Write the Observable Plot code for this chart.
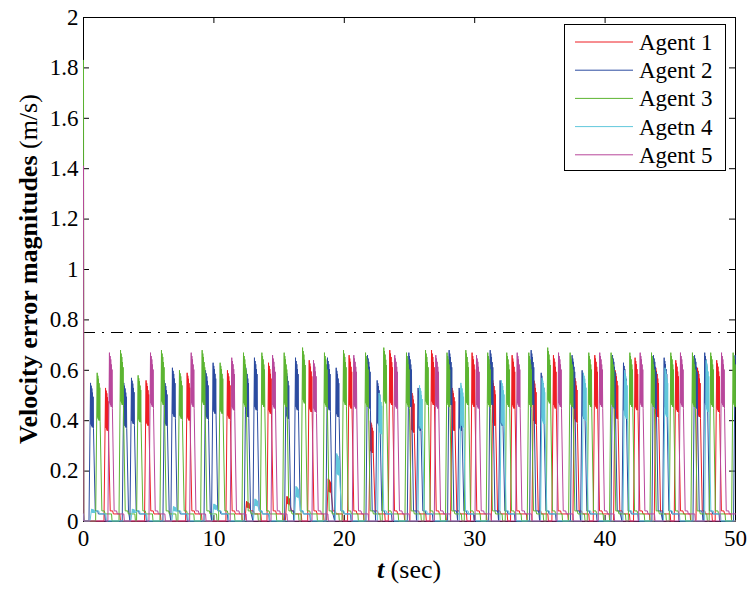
<!DOCTYPE html>
<html>
<head>
<meta charset="utf-8">
<script src="https://cdn.jsdelivr.net/npm/d3@7"></script>
<script src="https://cdn.jsdelivr.net/npm/@observablehq/plot@0.6"></script>
<style>
  html, body { margin: 0; padding: 0; background: #fff; }
  svg { display: block; }
  svg text, svg tspan { font-family: "Times New Roman", "Liberation Serif", Times, "DejaVu Serif", serif; }
</style>
</head>
<body>
<div id="chart"></div>
<script>
// ---- data ----
const agents = ["Agent 1", "Agent 2", "Agent 3", "Agetn 4", "Agent 5"];
const colors = ["#ee1d23", "#2b4ba0", "#5cb531", "#62c8dc", "#b8479b"];
const initialValues = [0.03, 0.03, 1.83, 0.03, 1.41];

const xTicks = [0, 10, 20, 30, 40, 50];
const yTicks = [0, 0.2, 0.4, 0.6, 0.8, 1, 1.2, 1.4, 1.6, 1.8, 2];
const yTickLabels = ["0", "0.2", "0.4", "0.6", "0.8", "1", "1.2", "1.4", "1.6", "1.8", "2"];
const bound = 0.75;

// spike times (s) and peak values (m/s) per agent
const spikeTimes1 = [1.69, 4.8, 7.95, 11.04, 12.5, 14.19, 15.6, 17.31, 18.77, 20.37, 22.0, 23.49, 25.15, 26.69, 28.27, 29.8, 31.39, 32.87, 34.51, 36.04, 37.65, 39.21, 40.77, 42.3, 43.89, 45.42, 47.09, 48.56];
const spikePeaks1 = [0.53, 0.56, 0.59, 0.60, 0.08, 0.63, 0.10, 0.64, 0.17, 0.66, 0.40, 0.68, 0.52, 0.68, 0.53, 0.67, 0.56, 0.66, 0.57, 0.66, 0.58, 0.66, 0.60, 0.65, 0.61, 0.64, 0.61, 0.64];

const spikeTimes2 = [0.54, 3.09, 3.68, 6.21, 6.82, 9.36, 9.94, 12.45, 13.11, 15.54, 16.26, 18.71, 19.38, 21.78, 22.52, 24.95, 25.66, 28.04, 28.81, 31.19, 31.95, 34.33, 35.1, 37.47, 38.24, 40.57, 41.41, 43.71, 44.53, 46.86, 47.64, 49.97];
const spikePeaks2 = [0.55, 0.55, 0.57, 0.56, 0.61, 0.60, 0.63, 0.61, 0.65, 0.60, 0.65, 0.65, 0.61, 0.66, 0.56, 0.67, 0.53, 0.68, 0.53, 0.68, 0.56, 0.68, 0.59, 0.66, 0.60, 0.66, 0.63, 0.66, 0.65, 0.66, 0.67, 0.66];

const spikeTimes3 = [1.05, 2.84, 4.19, 5.98, 7.36, 9.1, 10.48, 12.27, 13.68, 15.39, 16.8, 18.48, 19.94, 21.63, 23.03, 24.77, 26.23, 27.88, 29.32, 31.0, 32.46, 34.15, 35.6, 37.32, 38.75, 40.46, 41.9, 43.56, 45.04, 46.7, 48.1, 49.82];
const spikePeaks3 = [0.59, 0.68, 0.58, 0.68, 0.60, 0.68, 0.63, 0.67, 0.67, 0.67, 0.69, 0.67, 0.68, 0.67, 0.69, 0.67, 0.68, 0.67, 0.68, 0.67, 0.67, 0.67, 0.69, 0.67, 0.67, 0.67, 0.67, 0.67, 0.67, 0.67, 0.67, 0.67];

const spikeTimes4 = [0.62, 3.75, 6.9, 10.0, 13.15, 16.3, 19.42, 22.67, 25.77, 28.94, 32.05, 35.17, 38.34, 41.49, 44.6, 47.75];
const spikePeaks4 = [0.05, 0.05, 0.06, 0.07, 0.09, 0.14, 0.27, 0.51, 0.54, 0.55, 0.56, 0.57, 0.59, 0.60, 0.61, 0.64];

const spikeTimes5 = [1.99, 5.14, 8.26, 11.37, 14.5, 17.64, 20.73, 23.87, 27.02, 30.14, 33.26, 36.43, 39.59, 42.69, 45.78, 48.93];
const spikePeaks5 = [0.67, 0.67, 0.67, 0.65, 0.66, 0.64, 0.66, 0.66, 0.66, 0.66, 0.67, 0.67, 0.67, 0.67, 0.67, 0.67];

// pulse outline: time offset, share of the peak, fixed level
const pulseOffsets = [-0.12, 0, 0.025, 0.05, 0.075, 0.10, 0.125, 0.15, 0.175, 0.20, 0.225, 0.36, 0.55, 0.60, 1.10, 1.14];
const pulseRel     = [0, 1, 0.70, 0.98, 0.69, 0.96, 0.68, 0.93, 0.68, 0.90, 0.67, 0, 0, 0, 0, 0];
const pulseAbs     = [0.002, 0, 0, 0, 0, 0, 0, 0, 0, 0, 0, 0.042, 0.042, 0.03, 0.03, 0.002];

// ---- build the table the line mark needs ----
const allTimes = [spikeTimes1, spikeTimes2, spikeTimes3, spikeTimes4, spikeTimes5];
const allPeaks = [spikePeaks1, spikePeaks2, spikePeaks3, spikePeaks4, spikePeaks5];
const rows = [];
agents.forEach((name, i) => {
  const pts = [[0, initialValues[i]], [0.03, 0.002]];
  const ts = allTimes[i], ps = allPeaks[i];
  ts.forEach((t, k) => {
    const next = k + 1 < ts.length ? ts[k + 1] + pulseOffsets[0] : Infinity;
    pulseOffsets.forEach((o, j) => {
      const tt = t + o;
      if (j > 1 && tt >= next) return;
      if (tt > 50) return;
      if (tt <= pts[pts.length - 1][0]) return;
      pts.push([tt, pulseRel[j] * ps[k] + pulseAbs[j]]);
    });
  });
  if (pts[pts.length - 1][0] < 50) pts.push([50, pts[pts.length - 1][1]]);
  pts.forEach(([t, v]) => rows.push({agent: name, t, v}));
});

const fontFam = "'Times New Roman', 'Liberation Serif', Times, 'DejaVu Serif', serif";
const W = 749, H = 589;
const mL = 83, mR = 14, mT = 17, mB = 68;
const tx = 6 * 50 / (W - mL - mR);   // tick length in x units
const ty = 6 * 2 / (H - mT - mB);    // tick length in y units

const svg = Plot.plot({
  width: W, height: H,
  marginLeft: mL, marginRight: mR, marginTop: mT, marginBottom: mB,
  style: {fontFamily: fontFam, fontSize: "23px", color: "#000", background: "#fff"},
  x: {domain: [0, 50]},
  y: {domain: [0, 2]},
  color: {domain: agents, range: colors},
  marks: [
    Plot.frame({stroke: "#000", strokeWidth: 1}),
    Plot.ruleY([bound], {x1: 0, x2: 50, stroke: "#000", strokeWidth: 1, strokeDasharray: "12,7,2,7"}),
    Plot.ruleX(xTicks, {y1: 0, y2: ty, stroke: "#000"}),
    Plot.ruleX(xTicks, {y1: 2 - ty, y2: 2, stroke: "#000"}),
    Plot.ruleY(yTicks, {x1: 0, x2: tx, stroke: "#000"}),
    Plot.ruleY(yTicks, {x1: 50 - tx, x2: 50, stroke: "#000"}),
    Plot.line(rows, {x: "t", y: "v", z: "agent", stroke: "agent", strokeWidth: 1}),
    Plot.axisX(xTicks, {tickSize: 0, tickPadding: 8, label: null, tickFormat: d => String(d), fontSize: 23, fontFamily: fontFam, fill: "#000"}),
    Plot.axisY(yTicks, {tickSize: 0, tickPadding: 5, label: null, tickFormat: (d, i) => yTickLabels[i], fontSize: 23, fontFamily: fontFam, fill: "#000"})
  ]
});
document.getElementById("chart").appendChild(svg);

const s = d3.select(svg);
// y label
const yl = s.append("text")
  .attr("transform", `translate(37, ${(mT + H - mB) / 2}) rotate(-90)`)
  .attr("text-anchor", "middle")
  .attr("font-family", fontFam).attr("font-size", 26).attr("fill", "#000");
yl.append("tspan").attr("font-weight", "bold").text("Velocity error magnitudes");
yl.append("tspan").text(" (m/s)");
// x label
const xl = s.append("text")
  .attr("x", mL + (W - mL - mR) / 2).attr("y", 578)
  .attr("text-anchor", "middle")
  .attr("font-family", fontFam).attr("font-size", 26).attr("fill", "#000");
xl.append("tspan").attr("font-weight", "bold").attr("font-style", "italic").text("t");
xl.append("tspan").text(" (sec)");

// legend
const lg = s.append("g");
lg.append("rect").attr("x", 564.5).attr("y", 24.5).attr("width", 161).attr("height", 146)
  .attr("fill", "#fff").attr("stroke", "#000").attr("stroke-width", 1);
agents.forEach((name, i) => {
  const y = 42 + i * 28.2;
  lg.append("line").attr("x1", 575).attr("x2", 633).attr("y1", y).attr("y2", y)
    .attr("stroke", colors[i]).attr("stroke-width", 1);
  lg.append("text").attr("x", 639).attr("y", y).attr("dy", "0.35em")
    .attr("text-anchor", "start")
    .attr("font-family", fontFam).attr("font-size", 23).attr("fill", "#000").text(name);
});
</script>
</body>
</html>
